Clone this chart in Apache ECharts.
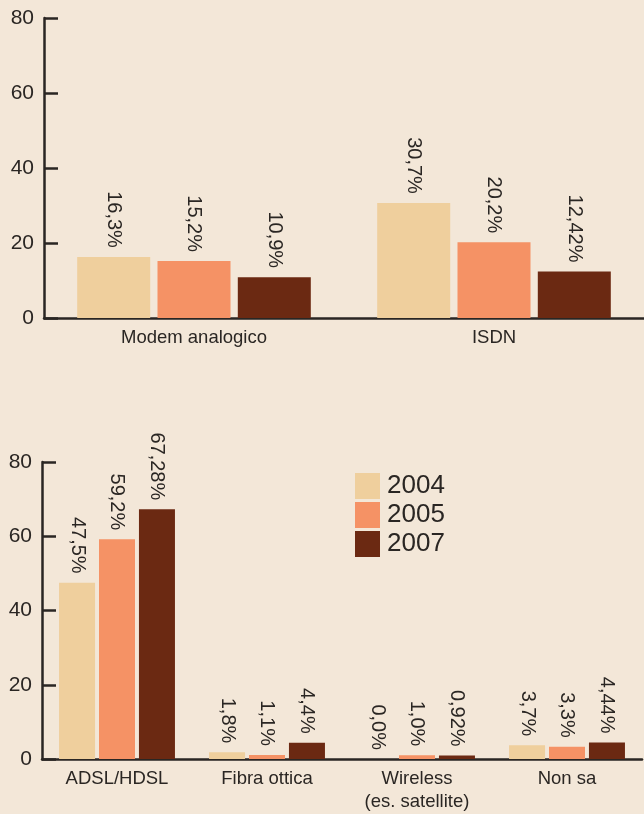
<!DOCTYPE html>
<html>
<head>
    <meta charset="utf-8">
    <title>Connessione</title>
    <script src="https://cdn.jsdelivr.net/npm/echarts@6/dist/echarts.min.js"></script>
    <style>
        html, body { margin: 0; padding: 0; background: #f3e7d8; }
        #chart1 { width: 644px; height: 814px; }
    </style>
</head>
<body>
<div id="chart1"></div>
<script type="text/javascript">
// dati
var anni = ['2004', '2005', '2007'];
var colori = ['#efcf9d', '#f59265', '#6b2912'];

var catSopra = ['Modem analogico', 'ISDN'];
var sopra2004 = [16.3, 30.7];
var sopra2005 = [15.2, 20.2];
var sopra2007 = [10.9, 12.42];
var etichetteSopra = [['16,3%', '30,7%'], ['15,2%', '20,2%'], ['10,9%', '12,42%']];

var catSotto = ['ADSL/HDSL', 'Fibra ottica', 'Wireless\n(es. satellite)', 'Non sa'];
var sotto2004 = [47.5, 1.8, 0.0, 3.7];
var sotto2005 = [59.2, 1.1, 1.0, 3.3];
var sotto2007 = [67.28, 4.4, 0.92, 4.44];
var etichetteSotto = [['47,5%', '1,8%', '0,0%', '3,7%'], ['59,2%', '1,1%', '1,0%', '3,3%'], ['67,28%', '4,4%', '0,92%', '4,44%']];

var tickY = [0, 20, 40, 60, 80];

var scuro = '#2a2623';
var font = '"Liberation Sans", Arial, sans-serif';

var myChart1 = echarts.init(document.getElementById('chart1'));

function asseX(idx, cats) {
    return {
        type: 'category', gridIndex: idx, data: cats,
        axisLine: { lineStyle: { color: scuro, width: 2.5 } },
        axisTick: { inside: true, length: 7, lineStyle: { color: scuro, width: 2.5 } },
        axisLabel: { color: scuro, fontSize: 18.5, fontFamily: font, margin: 8, lineHeight: 23, interval: 0 }
    };
}

function asseY(idx) {
    return {
        type: 'value', gridIndex: idx, min: tickY[0], max: tickY[tickY.length - 1], interval: 20,
        splitLine: { show: false },
        axisLine: { show: true, lineStyle: { color: scuro, width: 2.5 } },
        axisTick: { show: true, inside: true, length: 14, lineStyle: { color: scuro, width: 2.5 } },
        axisLabel: { color: scuro, fontSize: 21, fontFamily: font, margin: 10 }
    };
}

function serie(i, idx, dati, etichette, larg, gap) {
    return {
        name: anni[i], type: 'bar', xAxisIndex: idx, yAxisIndex: idx,
        data: dati, barWidth: larg, barGap: gap,
        itemStyle: { color: colori[i] },
        label: {
            show: true, position: 'top', rotate: -90, align: 'right', verticalAlign: 'middle',
            distance: 9, color: scuro, fontSize: 20, fontFamily: font,
            formatter: function (p) { return etichette[i][p.dataIndex]; }
        }
    };
}

myChart1.setOption({
    backgroundColor: '#f3e7d8',
    animation: false,
    legend: {
        data: anni, orient: 'vertical', left: 355, top: 473, padding: 0,
        itemWidth: 25, itemHeight: 26, itemGap: 3, icon: 'rect',
        textStyle: { color: scuro, fontSize: 26, fontFamily: font, padding: [0, 0, 0, 2] }
    },
    grid: [
        { left: 44, top: 18, width: 600, height: 300 },
        { left: 42, top: 462, width: 600, height: 297 }
    ],
    xAxis: [asseX(0, catSopra), asseX(1, catSotto)],
    yAxis: [asseY(0), asseY(1)],
    series: [
        serie(0, 0, sopra2004, etichetteSopra, 73, '10%'),
        serie(1, 0, sopra2005, etichetteSopra, 73, '10%'),
        serie(2, 0, sopra2007, etichetteSopra, 73, '10%'),
        serie(0, 1, sotto2004, etichetteSotto, 36, '11%'),
        serie(1, 1, sotto2005, etichetteSotto, 36, '11%'),
        serie(2, 1, sotto2007, etichetteSotto, 36, '11%')
    ]
});
</script>
</body>
</html>
